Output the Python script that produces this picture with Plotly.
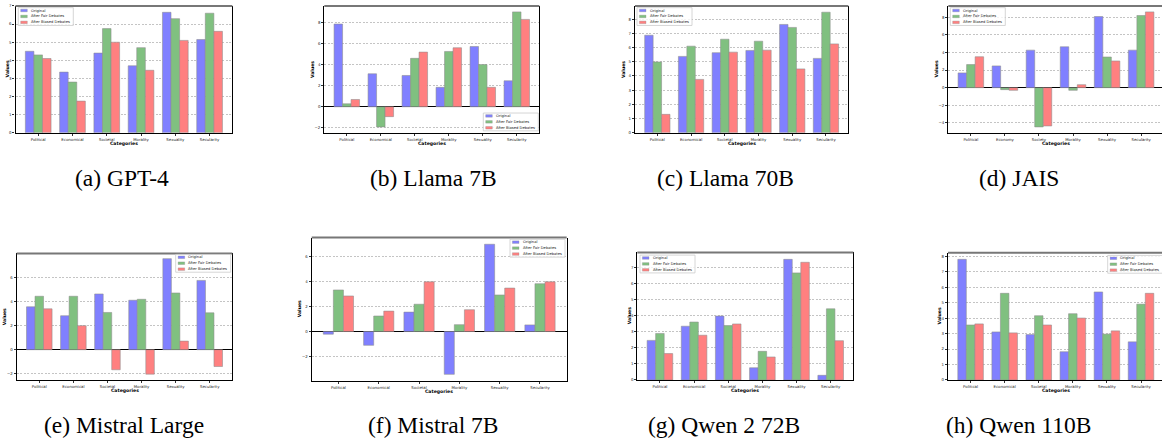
import math
import plotly.graph_objects as go

W, H = 1162, 443

categories = ["Political", "Economical", "Societal", "Morality", "Sexuality", "Secularity"]
categories_jais = ["Political", "Economy", "Society", "Morality", "Sexuality", "Secularity"]
series_names = ["Original", "After Fair Debates", "After Biased Debates"]
captions = ["(a) GPT-4", "(b) Llama 7B", "(c) Llama 70B", "(d) JAIS",
            "(e) Mistral Large", "(f) Mistral 7B", "(g) Qwen 2 72B", "(h) Qwen 110B"]

gpt4_original = [4.5, 3.35, 4.4, 3.7, 6.65, 5.15]
gpt4_fair = [4.3, 2.8, 5.75, 4.7, 6.3, 6.6]
gpt4_biased = [4.1, 1.75, 5.0, 3.45, 5.1, 5.6]

llama7b_original = [7.82, 3.12, 2.96, 1.84, 5.7, 2.46]
llama7b_fair = [0.28, -1.9, 4.58, 5.23, 3.99, 8.97]
llama7b_biased = [0.69, -0.93, 5.17, 5.58, 1.84, 8.26]

llama70b_original = [6.87, 5.38, 5.64, 5.8, 7.63, 5.24]
llama70b_fair = [4.99, 6.1, 6.59, 6.45, 7.42, 8.49]
llama70b_biased = [1.3, 3.76, 5.68, 5.82, 4.5, 6.26]

jais_original = [1.68, 2.47, 4.26, 4.64, 8.07, 4.26]
jais_fair = [2.62, -0.22, -4.45, -0.3, 3.48, 8.19]
jais_biased = [3.51, -0.3, -4.34, 0.34, 3.03, 8.6]

mistral_large_original = [3.55, 2.81, 4.61, 4.09, 7.53, 5.73]
mistral_large_fair = [4.42, 4.42, 3.08, 4.17, 4.69, 3.05]
mistral_large_biased = [3.38, 1.99, -1.66, -2.02, 0.71, -1.39]

mistral7b_original = [-0.21, -1.1, 1.55, -3.42, 6.97, 0.53]
mistral7b_fair = [3.32, 1.24, 2.18, 0.55, 2.92, 3.82]
mistral7b_biased = [2.84, 1.63, 3.97, 1.74, 3.47, 3.97]

qwen2_72b_original = [2.46, 3.34, 3.97, 0.76, 7.49, 0.29]
qwen2_72b_fair = [2.89, 3.6, 3.38, 1.78, 6.65, 4.42]
qwen2_72b_biased = [1.64, 2.78, 3.48, 1.43, 7.31, 2.44]

qwen110b_original = [7.81, 3.11, 2.94, 1.83, 5.7, 2.47]
qwen110b_fair = [3.56, 5.61, 4.16, 4.29, 2.97, 4.91]
qwen110b_biased = [3.63, 3.05, 3.56, 4.01, 3.18, 5.61]

data = [
    (categories, gpt4_original, gpt4_fair, gpt4_biased),
    (categories, llama7b_original, llama7b_fair, llama7b_biased),
    (categories, llama70b_original, llama70b_fair, llama70b_biased),
    (categories_jais, jais_original, jais_fair, jais_biased),
    (categories, mistral_large_original, mistral_large_fair, mistral_large_biased),
    (categories, mistral7b_original, mistral7b_fair, mistral7b_biased),
    (categories, qwen2_72b_original, qwen2_72b_fair, qwen2_72b_biased),
    (categories, qwen110b_original, qwen110b_fair, qwen110b_biased),
]

colors = ["rgb(128,128,255)", "rgb(128,192,128)", "rgb(255,128,128)"]
edge = "rgba(140,140,140,0.55)"

# layout (pixel boxes) per panel
panels = [
    dict(L=15.5, R=232.3, T=3, B=131.3, yr=[0, 7.0], dt=1, leg=(18.3, 4.7), vx=7, cy=141.7, cap=(122, 177), rs=True),
    dict(L=324.3, R=539.3, T=3, B=131.3, yr=[-2.46, 9.53], dt=2, leg=(483.3, 111.3), vx=312.7, cy=141.7, cap=(433, 177), rs=True),
    dict(L=635, R=848.3, T=3, B=131.3, yr=[0, 8.93], dt=1, leg=(637.0, 4.7), vx=623.7, cy=141.7, cap=(725, 177), rs=True),
    dict(L=948.3, R=1163.7, T=3, B=131.3, yr=[-5.12, 9.27], dt=2, leg=(950.3, 4.7), vx=936, cy=141.7, cap=(1019, 177), rs=False),
    dict(L=16.7, R=232.3, T=253.3, B=381.0, yr=[-2.48, 7.96], dt=2, leg=(175.7, 254.3), vx=4.7, cy=391.7, cap=(124, 427), rs=True),
    dict(L=311.7, R=566.7, T=237.3, B=382.3, yr=[-3.95, 7.5], dt=2, leg=(510.0, 239.0), vx=299, cy=392.7, cap=(433, 427), rs=True),
    dict(L=637.3, R=853.3, T=252.3, B=381.3, yr=[0, 7.92], dt=1, leg=(640.0, 255.0), vx=629, cy=391.5, cap=(724, 427), rs=True),
    dict(L=948.0, R=1163.6, T=252.7, B=381.3, yr=[0, 8.23], dt=1, leg=(1107.7, 255.3), vx=939, cy=391.5, cap=(1018, 427), rs=False),
]


def px(x):
    return x / W


def py(y):
    return 1 - y / H


fig = go.Figure()
shapes = []
annotations = []
XR = [-0.6625, 5.6625]

for i, (p, (cats, s0, s1, s2)) in enumerate(zip(panels, data)):
    n = i + 1
    xa = "x" if n == 1 else f"x{n}"
    ya = "y" if n == 1 else f"y{n}"
    for name, vals, col in zip(series_names, (s0, s1, s2), colors):
        fig.add_trace(go.Bar(
            x=list(range(len(cats))), y=vals, name=name, xaxis=xa, yaxis=ya,
            marker=dict(color=col, line=dict(color=edge, width=1)),
            showlegend=False, hoverinfo="y",
        ))
    Rvis = min(p["R"], W)
    span = XR[1] - XR[0]
    xr_right = XR[0] + span * (Rvis - p["L"]) / (p["R"] - p["L"])
    has_neg = p["yr"][0] < 0
    t0 = math.ceil(p["yr"][0] / p["dt"]) * p["dt"]
    tickvals = []
    v = t0
    while v <= p["yr"][1] + 1e-9:
        tickvals.append(round(v, 6))
        v += p["dt"]
    xkey = "xaxis" if n == 1 else f"xaxis{n}"
    ykey = "yaxis" if n == 1 else f"yaxis{n}"
    fig.layout[xkey] = dict(
        domain=[px(p["L"]), px(Rvis)], anchor=ya, range=[XR[0], xr_right],
        tickmode="array", tickvals=list(range(len(cats))), ticktext=cats,
        tickfont=dict(family="DejaVu Sans", size=3.9, color="#222"),
        ticks="outside", ticklen=2, tickwidth=0.6, tickcolor="#333",
        showline=True, linecolor="black", linewidth=1.3, mirror=False,
        showgrid=False, zeroline=False, fixedrange=True,
    )
    fig.layout[ykey] = dict(
        domain=[py(p["B"]), py(p["T"])], anchor=xa, range=p["yr"],
        tickmode="array", tickvals=tickvals,
        ticktext=[(str(int(t)) if t >= 0 else "\u2212" + str(int(-t))) for t in tickvals],
        tickfont=dict(family="DejaVu Sans", size=3.9, color="#222"),
        ticks="outside", ticklen=2, tickwidth=0.6, tickcolor="#333",
        showline=True, linecolor="black", linewidth=1.3, mirror=p["rs"],
        showgrid=True, gridcolor="#c4c4c4", gridwidth=0.6, griddash="2px,1.5px",
        zeroline=has_neg, zerolinecolor="black", zerolinewidth=1.3, fixedrange=True,
    )
    # top spine
    shapes.append(dict(type="line", xref="paper", yref="paper",
                       x0=px(p["L"]), x1=px(Rvis), y0=py(p["T"]), y1=py(p["T"]),
                       line=dict(color="#777", width=2), layer="above"))
    # legend box and entries
    lx, ly = p["leg"]
    shapes.append(dict(type="rect", xref="paper", yref="paper",
                       x0=px(lx), x1=px(lx + 55), y0=py(ly), y1=py(ly + 18),
                       line=dict(color="#cccccc", width=0.8),
                       fillcolor="rgba(255,255,255,0.8)", layer="above"))
    for k, (name, col) in enumerate(zip(series_names, colors)):
        cyk = ly + 2.9 + 6.0 * k
        shapes.append(dict(type="rect", xref="paper", yref="paper",
                           x0=px(lx + 2.4), x1=px(lx + 9.0), y0=py(cyk - 1.3), y1=py(cyk + 1.3),
                           line=dict(color=edge, width=0.6), fillcolor=col, layer="above"))
        annotations.append(dict(xref="paper", yref="paper", x=px(lx + 12.5), y=py(cyk),
                                text=name, showarrow=False, xanchor="left", yanchor="middle",
                                borderpad=0, borderwidth=0,
                                font=dict(family="DejaVu Sans", size=3.7, color="#222")))
    # axis titles
    annotations.append(dict(xref="paper", yref="paper", x=px(p["vx"]), y=py((p["T"] + p["B"]) / 2),
                            text="<b>Values</b>", textangle=-90, showarrow=False,
                            xanchor="center", yanchor="middle", borderpad=0,
                            font=dict(family="DejaVu Sans", size=4.6, color="black")))
    annotations.append(dict(xref="paper", yref="paper", x=px((p["L"] + p["R"]) / 2), y=py(p["cy"]),
                            text="<b>Categories</b>", showarrow=False,
                            xanchor="center", yanchor="middle", borderpad=0,
                            font=dict(family="DejaVu Sans", size=4.6, color="black")))
    # caption
    annotations.append(dict(xref="paper", yref="paper", x=px(p["cap"][0]), y=py(p["cap"][1]),
                            text=captions[i], showarrow=False,
                            xanchor="center", yanchor="middle", borderpad=0,
                            font=dict(family="Liberation Serif", size=23.5, color="black")))

fig.update_layout(
    width=W, height=H, margin=dict(l=0, r=0, t=0, b=0),
    barmode="group", bargap=0.25, bargroupgap=0,
    paper_bgcolor="white", plot_bgcolor="white",
    shapes=shapes, annotations=annotations, showlegend=False,
)

fig.write_html(
    "out.html",
    config={"displayModeBar": False},
    post_script="document.body.style.margin='0';document.body.style.overflow='hidden';",
)
